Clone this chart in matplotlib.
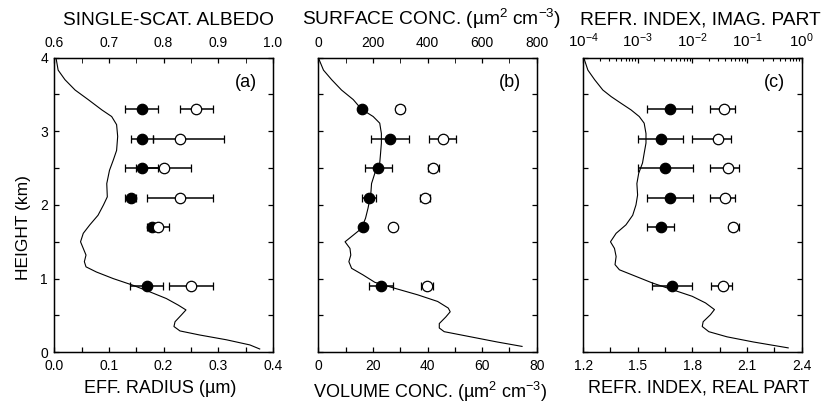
import matplotlib
matplotlib.use('Agg')
import matplotlib.pyplot as plt

plt.rcParams['font.family'] = ['Liberation Sans', 'DejaVu Sans']
plt.rcParams['mathtext.fontset'] = 'custom'
plt.rcParams['mathtext.rm'] = 'Liberation Sans'
plt.rcParams['mathtext.it'] = 'Liberation Sans:italic'
plt.rcParams['mathtext.bf'] = 'Liberation Sans:bold'
plt.rcParams['mathtext.default'] = 'regular'

# ---------------- data ----------------
heights = [3.3, 2.9, 2.5, 2.1, 1.7, 0.9]

# panel (a)
radius = [0.16, 0.16, 0.16, 0.14, 0.178, 0.169]
radius_err = [0.03, 0.02, 0.03, 0.01, 0.0, 0.03]
albedo = [0.86, 0.83, 0.80, 0.83, 0.79, 0.85]
albedo_err_lo = [0.03, 0.05, 0.05, 0.06, 0.02, 0.04]
albedo_err_hi = [0.03, 0.08, 0.05, 0.06, 0.02, 0.04]

# panel (b)
volume = [16.0, 26.2, 22.0, 18.6, 16.3, 22.9]
volume_err = [0.0, 7.0, 5.0, 2.5, 0.0, 4.4]
surface = [300, 455, 421, 390, 273, 398]
surface_err = [15, 50, 20, 18, 10, 22]

# panel (c)
real_part = [1.675, 1.626, 1.652, 1.677, 1.626, 1.690]
real_err = [0.125, 0.125, 0.15, 0.125, 0.075, 0.11]
imag_part = [0.038, 0.029, 0.045, 0.039, 0.055, 0.036]
imag_lo = [0.021, 0.010, 0.021, 0.021, 0.046, 0.022]
imag_hi = [0.061, 0.051, 0.072, 0.061, 0.070, 0.053]

# profile curves
curve_a_h = [4.0, 3.83, 3.70, 3.56, 3.43, 3.29, 3.20, 3.09, 2.93, 2.74, 2.61, 2.47,
             2.29, 2.11, 2.00, 1.86, 1.73, 1.615, 1.50, 1.41, 1.32, 1.23, 1.16, 1.09,
             1.00, 0.91, 0.82, 0.73, 0.64, 0.575, 0.51, 0.415, 0.35, 0.29, 0.235,
             0.17, 0.10, 0.045]
curve_a_x = [0.003, 0.007, 0.0195, 0.038, 0.062, 0.087, 0.105, 0.114, 0.116, 0.114,
             0.108, 0.101, 0.096, 0.097, 0.090, 0.080, 0.065, 0.053, 0.048, 0.053,
             0.058, 0.055, 0.058, 0.077, 0.108, 0.144, 0.175, 0.205, 0.227, 0.241,
             0.233, 0.221, 0.219, 0.230, 0.266, 0.315, 0.358, 0.376]

curve_b_h = [4.0, 3.83, 3.70, 3.56, 3.43, 3.30, 3.20, 3.11, 2.97, 2.84, 2.70, 2.57,
             2.43, 2.29, 2.135, 1.955, 1.82, 1.68, 1.59, 1.50, 1.41, 1.32, 1.23, 1.14,
             1.05, 0.95, 0.87, 0.78, 0.69, 0.60, 0.55, 0.48, 0.39, 0.33, 0.28, 0.21,
             0.14, 0.08]
curve_b_x = [0.0, 1.9, 4.9, 8.5, 12.8, 15.8, 20.1, 22.5, 23.1, 23.1, 22.8, 22.5, 20.7,
             19.5, 19.2, 18.2, 17.3, 15.8, 12.8, 9.8, 11.6, 11.9, 11.2, 12.2, 16.4,
             20.7, 27.9, 36.4, 43.7, 47.6, 48.3, 46.7, 44.3, 44.3, 46.1, 55.8, 65.5,
             74.6]

curve_c_h = [4.0, 3.83, 3.70, 3.56, 3.47, 3.38, 3.29, 3.20, 3.11, 2.97, 2.84, 2.70,
             2.57, 2.43, 2.29, 2.135, 2.00, 1.86, 1.73, 1.615, 1.50, 1.41, 1.30, 1.19,
             1.12, 1.03, 0.94, 0.85, 0.76, 0.67, 0.58, 0.51, 0.415, 0.35, 0.28, 0.21,
             0.14, 0.06]
curve_c_x = [1.203, 1.226, 1.263, 1.308, 1.354, 1.408, 1.463, 1.508, 1.535, 1.545,
             1.545, 1.535, 1.526, 1.505, 1.495, 1.499, 1.49, 1.472, 1.435, 1.381,
             1.35, 1.372, 1.381, 1.375, 1.399, 1.49, 1.581, 1.69, 1.799, 1.872,
             1.921, 1.899, 1.859, 1.854, 1.89, 1.99, 2.135, 2.326]

# ticks / labels
y_ticks = [0, 1, 2, 3, 4]
y_ticklabels = ['0', '1', '2', '3', '4']
y_minor = [0.5, 1.5, 2.5, 3.5]

a_bot_ticks = [0.0, 0.1, 0.2, 0.3, 0.4]
a_bot_labels = ['0.0', '0.1', '0.2', '0.3', '0.4']
a_bot_minor = [0.05, 0.15, 0.25, 0.35]
a_top_ticks = [0.6, 0.7, 0.8, 0.9, 1.0]
a_top_labels = ['0.6', '0.7', '0.8', '0.9', '1.0']
a_top_minor = [0.65, 0.75, 0.85, 0.95]

b_bot_ticks = [0, 20, 40, 60, 80]
b_bot_labels = ['0', '20', '40', '60', '80']
b_bot_minor = [10, 30, 50, 70]
b_top_ticks = [0, 200, 400, 600, 800]
b_top_labels = ['0', '200', '400', '600', '800']
b_top_minor = [100, 300, 500, 700]

c_bot_ticks = [1.2, 1.5, 1.8, 2.1, 2.4]
c_bot_labels = ['1.2', '1.5', '1.8', '2.1', '2.4']
c_bot_minor = [1.35, 1.65, 1.95, 2.25]
c_top_ticks = [1e-4, 1e-3, 1e-2, 1e-1, 1e0]
c_top_labels = ['$10^{-4}$', '$10^{-3}$', '$10^{-2}$', '$10^{-1}$', '$10^{0}$']

# ---------------- figure ----------------
fig = plt.figure(figsize=(8.28, 4.12), dpi=100)
lefts = [0.0656, 0.3844, 0.7043]
W, B, H = 0.2639, 0.1449, 0.7153

ms = 7.5
ebkw = dict(fmt='o', ms=ms, mec='k', ecolor='k', elinewidth=1.1,
            capsize=2.6, capthick=1.1, mew=0.9)


def panel(left, bot_lim, top_lim, cx, ch, fx, fxerr, ox, oxerr,
          bot_ticks, bot_labels, bot_minor, top_ticks, top_labels, top_minor,
          top_log, letter, bot_label, top_label, bot_lx, top_lx, show_y,
          top_labelsize=10):
    ax = fig.add_axes([left, B, W, H])
    ax.set_xlim(*bot_lim)
    ax.set_ylim(0, 4)
    ax.plot(cx, ch, color='k', lw=0.8, zorder=2)
    ax.errorbar(fx, heights, xerr=fxerr, mfc='k', zorder=3, **ebkw)
    ax.set_xticks(bot_ticks, bot_labels)
    ax.set_xticks(bot_minor, minor=True)
    ax.set_yticks(y_ticks, y_ticklabels if show_y else [])
    ax.set_yticks(y_minor, minor=True)
    ax.tick_params(which='both', direction='in', left=True, right=True,
                   bottom=True, top=False, length=3.5, width=0.9,
                   labelsize=10, pad=4.5)
    for s in ax.spines.values():
        s.set_linewidth(1.0)

    ax2 = ax.twiny()
    if top_log:
        ax2.set_xscale('log')
    ax2.set_xlim(*top_lim)
    ax2.errorbar(ox, heights, xerr=oxerr, mfc='white', zorder=4, **ebkw)
    ax2.set_xticks(top_ticks, top_labels)
    if top_minor is not None:
        ax2.set_xticks(top_minor, minor=True)
        ax2.tick_params(axis='x', which='minor', length=3.5)
    else:
        ax2.tick_params(axis='x', which='minor', length=2.0, width=0.8)
        ax2.xaxis.set_minor_formatter(plt.NullFormatter())
    ax2.tick_params(axis='x', which='major', direction='in', length=3.5,
                    width=0.9, labelsize=top_labelsize, pad=5.5, top=True,
                    bottom=False)
    ax2.tick_params(axis='x', which='minor', direction='in', top=True,
                    bottom=False)

    ax.set_xlabel(bot_label, fontsize=13)
    ax.xaxis.set_label_coords(bot_lx, -0.0926)
    ax2.set_xlabel(top_label, fontsize=13.8)
    ax2.xaxis.set_label_coords(top_lx, 1.112)
    if show_y:
        ax.set_ylabel('HEIGHT (km)', fontsize=12.5)
        ax.yaxis.set_label_coords(-0.107, 0.424)
    ax.text(0.877, 0.915, letter, transform=ax.transAxes, ha='center',
            va='center', fontsize=13)
    return ax, ax2


panel(lefts[0], (0.0, 0.4), (0.6, 1.0), curve_a_x, curve_a_h,
      radius, radius_err, albedo, [albedo_err_lo, albedo_err_hi],
      a_bot_ticks, a_bot_labels, a_bot_minor, a_top_ticks, a_top_labels,
      a_top_minor, False, '(a)', 'EFF. RADIUS (µm)', 'SINGLE-SCAT. ALBEDO',
      0.486, 0.523, True)

panel(lefts[1], (0, 80), (0, 800), curve_b_x, curve_b_h,
      volume, volume_err, surface, surface_err,
      b_bot_ticks, b_bot_labels, b_bot_minor, b_top_ticks, b_top_labels,
      b_top_minor, False, '(b)', 'VOLUME CONC. (µm$^2$ cm$^{-3}$)',
      'SURFACE CONC. (µm$^2$ cm$^{-3}$)', 0.511, 0.519, False)

imag_err = [[v - lo for v, lo in zip(imag_part, imag_lo)],
            [hi - v for v, hi in zip(imag_part, imag_hi)]]
panel(lefts[2], (1.2, 2.4), (1e-4, 1e0), curve_c_x, curve_c_h,
      real_part, real_err, imag_part, imag_err,
      c_bot_ticks, c_bot_labels, c_bot_minor, c_top_ticks, c_top_labels,
      None, True, '(c)', 'REFR. INDEX, REAL PART', 'REFR. INDEX, IMAG. PART',
      0.529, 0.535, False, top_labelsize=11)

fig.savefig('out.png', dpi=100)
